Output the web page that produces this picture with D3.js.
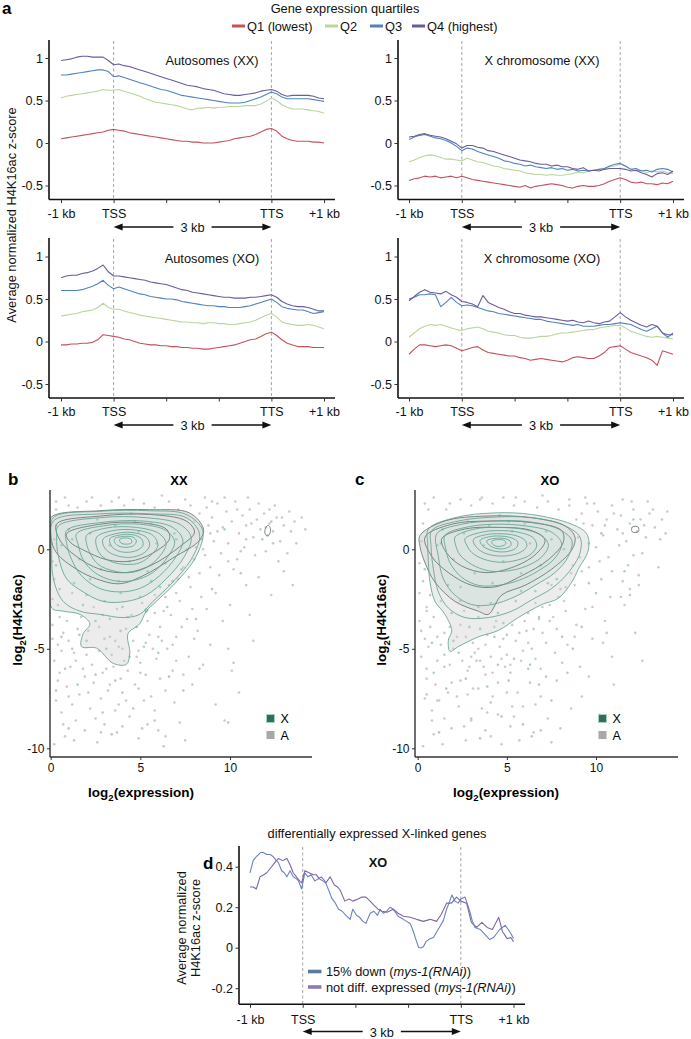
<!DOCTYPE html>
<html><head><meta charset="utf-8">
<script src="https://cdn.jsdelivr.net/npm/d3@7"></script>
<style>
body{margin:0;background:#fff;}
svg{display:block;font-family:"Liberation Sans",Arial,Helvetica,sans-serif;}
</style></head><body>
<svg id="fig" width="691" height="1039"></svg>
<script>
// ---------------- DATA ----------------
const binPos = [0,0.1,0.2,0.3,0.4,0.5,0.6,0.7,0.8,0.9,1.0,1.1,1.2,1.3,1.4,1.5,1.6,1.7,1.8,1.9,2.0,2.1,2.2,2.3,2.4,2.5,2.6,2.7,2.8,2.9,3.0,3.1,3.2,3.3,3.4,3.5,3.6,3.7,3.8,3.9,4.0,4.1,4.2,4.3,4.4,4.5,4.6,4.7,4.8,4.9,5.0];
const metaTickLabels = ["-1 kb","TSS","","","TTS","+1 kb"];
const quartiles = ["Q1 (lowest)","Q2","Q3","Q4 (highest)"];

const autoXX_Q1 = [0.05,0.06,0.07,0.08,0.09,0.10,0.11,0.12,0.13,0.15,0.16,0.15,0.14,0.12,0.11,0.10,0.09,0.08,0.07,0.06,0.05,0.04,0.03,0.02,0.02,0.01,0.01,0.00,0.00,0.00,0.01,0.02,0.03,0.05,0.06,0.07,0.08,0.10,0.13,0.16,0.17,0.14,0.08,0.05,0.03,0.02,0.02,0.02,0.01,0.01,0.00];
const autoXX_Q2 = [0.53,0.55,0.56,0.57,0.58,0.59,0.60,0.61,0.63,0.62,0.62,0.63,0.61,0.59,0.57,0.55,0.52,0.50,0.48,0.47,0.46,0.45,0.44,0.42,0.40,0.39,0.41,0.41,0.42,0.41,0.42,0.42,0.43,0.43,0.43,0.44,0.44,0.44,0.46,0.49,0.53,0.50,0.45,0.42,0.40,0.40,0.40,0.39,0.38,0.37,0.35];
const autoXX_Q3 = [0.80,0.80,0.81,0.82,0.83,0.84,0.85,0.86,0.86,0.84,0.78,0.79,0.77,0.75,0.73,0.71,0.69,0.67,0.65,0.63,0.62,0.60,0.58,0.56,0.55,0.54,0.53,0.52,0.51,0.50,0.49,0.48,0.47,0.47,0.47,0.48,0.50,0.52,0.54,0.57,0.60,0.58,0.54,0.52,0.52,0.52,0.52,0.52,0.51,0.50,0.49];
const autoXX_Q4 = [0.97,0.98,0.99,1.01,1.02,1.02,1.01,1.01,1.01,0.97,0.92,0.93,0.91,0.90,0.88,0.86,0.84,0.82,0.80,0.78,0.76,0.74,0.72,0.70,0.68,0.67,0.66,0.64,0.63,0.62,0.60,0.58,0.57,0.56,0.56,0.57,0.58,0.59,0.61,0.62,0.63,0.61,0.57,0.55,0.56,0.56,0.56,0.56,0.55,0.53,0.52];

const xXX_Q1 = [-0.44,-0.42,-0.41,-0.39,-0.40,-0.39,-0.41,-0.40,-0.39,-0.41,-0.39,-0.41,-0.43,-0.44,-0.45,-0.46,-0.47,-0.48,-0.49,-0.50,-0.51,-0.52,-0.50,-0.53,-0.51,-0.50,-0.49,-0.48,-0.49,-0.50,-0.52,-0.53,-0.51,-0.50,-0.51,-0.51,-0.50,-0.48,-0.45,-0.43,-0.41,-0.43,-0.46,-0.47,-0.46,-0.48,-0.48,-0.49,-0.47,-0.48,-0.45];
const xXX_Q2 = [-0.22,-0.20,-0.17,-0.15,-0.14,-0.15,-0.17,-0.19,-0.19,-0.20,-0.21,-0.18,-0.20,-0.22,-0.23,-0.25,-0.27,-0.28,-0.30,-0.31,-0.32,-0.33,-0.35,-0.36,-0.37,-0.37,-0.38,-0.37,-0.38,-0.38,-0.37,-0.36,-0.34,-0.35,-0.33,-0.32,-0.31,-0.30,-0.28,-0.27,-0.25,-0.27,-0.31,-0.33,-0.32,-0.35,-0.33,-0.34,-0.33,-0.35,-0.36];
const xXX_Q3 = [0.04,0.07,0.09,0.10,0.08,0.06,0.05,0.03,0.00,-0.04,-0.09,-0.06,-0.07,-0.10,-0.12,-0.14,-0.16,-0.18,-0.21,-0.22,-0.24,-0.25,-0.27,-0.26,-0.28,-0.29,-0.30,-0.29,-0.31,-0.30,-0.32,-0.31,-0.33,-0.32,-0.33,-0.32,-0.31,-0.30,-0.27,-0.25,-0.24,-0.27,-0.31,-0.30,-0.33,-0.32,-0.34,-0.31,-0.30,-0.31,-0.34];
const xXX_Q4 = [0.07,0.08,0.10,0.11,0.09,0.08,0.07,0.05,0.02,-0.01,-0.06,-0.03,-0.03,-0.05,-0.06,-0.09,-0.10,-0.12,-0.14,-0.16,-0.18,-0.20,-0.21,-0.22,-0.24,-0.25,-0.25,-0.27,-0.26,-0.28,-0.28,-0.30,-0.31,-0.29,-0.33,-0.32,-0.33,-0.31,-0.30,-0.30,-0.30,-0.31,-0.33,-0.32,-0.35,-0.37,-0.40,-0.36,-0.35,-0.37,-0.33];

const autoXO_Q1 = [-0.04,-0.04,-0.03,-0.03,-0.02,-0.02,-0.01,0.02,0.08,0.07,0.06,0.05,0.03,0.02,0.00,-0.02,-0.03,-0.04,-0.04,-0.05,-0.05,-0.06,-0.06,-0.07,-0.07,-0.08,-0.08,-0.09,-0.09,-0.08,-0.07,-0.06,-0.05,-0.04,-0.02,0.00,0.02,0.03,0.06,0.09,0.11,0.07,0.02,-0.02,-0.04,-0.06,-0.06,-0.06,-0.07,-0.07,-0.07];
const autoXO_Q2 = [0.30,0.31,0.32,0.33,0.35,0.36,0.37,0.40,0.45,0.40,0.38,0.38,0.36,0.34,0.33,0.31,0.30,0.29,0.28,0.27,0.26,0.25,0.24,0.23,0.23,0.22,0.22,0.21,0.22,0.22,0.21,0.21,0.20,0.20,0.21,0.22,0.23,0.25,0.28,0.31,0.33,0.29,0.23,0.21,0.20,0.19,0.19,0.20,0.19,0.17,0.15];
const autoXO_Q3 = [0.60,0.60,0.60,0.60,0.61,0.63,0.65,0.68,0.72,0.66,0.62,0.64,0.62,0.60,0.58,0.56,0.55,0.53,0.52,0.51,0.50,0.50,0.49,0.47,0.46,0.45,0.44,0.43,0.42,0.42,0.41,0.41,0.40,0.40,0.40,0.41,0.42,0.44,0.46,0.48,0.50,0.46,0.41,0.39,0.38,0.37,0.37,0.35,0.33,0.34,0.35];
const autoXO_Q4 = [0.75,0.77,0.78,0.78,0.80,0.81,0.83,0.86,0.90,0.82,0.77,0.77,0.76,0.75,0.74,0.73,0.72,0.70,0.69,0.68,0.67,0.65,0.63,0.61,0.60,0.58,0.57,0.56,0.55,0.54,0.53,0.52,0.52,0.51,0.51,0.51,0.52,0.52,0.53,0.54,0.55,0.52,0.47,0.44,0.42,0.41,0.41,0.40,0.38,0.36,0.36];

const xXO_Q1 = [-0.15,-0.09,-0.04,-0.04,-0.05,-0.06,-0.05,-0.04,-0.05,-0.08,-0.11,-0.09,-0.07,-0.06,-0.10,-0.13,-0.14,-0.15,-0.16,-0.17,-0.17,-0.19,-0.20,-0.22,-0.21,-0.20,-0.21,-0.22,-0.23,-0.24,-0.22,-0.19,-0.18,-0.19,-0.20,-0.20,-0.17,-0.13,-0.07,-0.06,-0.05,-0.09,-0.13,-0.15,-0.17,-0.19,-0.22,-0.28,-0.11,-0.13,-0.15];
const xXO_Q2 = [0.05,0.10,0.15,0.18,0.20,0.19,0.20,0.18,0.16,0.14,0.13,0.15,0.16,0.17,0.15,0.12,0.11,0.10,0.08,0.07,0.07,0.05,0.04,0.04,0.05,0.06,0.06,0.07,0.09,0.10,0.10,0.11,0.12,0.13,0.14,0.14,0.16,0.17,0.18,0.19,0.19,0.16,0.12,0.10,0.08,0.06,0.05,0.06,0.05,0.04,0.03];
const xXO_Q3 = [0.50,0.52,0.55,0.55,0.56,0.55,0.41,0.46,0.52,0.46,0.42,0.43,0.42,0.40,0.38,0.36,0.35,0.33,0.32,0.31,0.30,0.29,0.28,0.27,0.26,0.26,0.24,0.23,0.22,0.21,0.20,0.19,0.20,0.18,0.18,0.18,0.19,0.20,0.20,0.21,0.22,0.21,0.20,0.17,0.14,0.12,0.15,0.18,0.10,0.05,0.10];
const xXO_Q4 = [0.48,0.53,0.58,0.61,0.58,0.57,0.56,0.59,0.55,0.52,0.47,0.46,0.44,0.41,0.54,0.46,0.43,0.40,0.38,0.35,0.33,0.33,0.31,0.30,0.29,0.29,0.28,0.27,0.26,0.25,0.24,0.25,0.23,0.22,0.24,0.22,0.21,0.23,0.24,0.29,0.34,0.29,0.25,0.22,0.19,0.17,0.20,0.18,0.10,0.08,0.08];

// panel d
const dLegend = ["15% down", "not diff. expressed"];
const down15Pos = [0,0.06,0.12,0.2,0.25,0.32,0.38,0.44,0.5,0.54,0.6,0.65,0.7,0.76,0.82,0.88,0.92,0.98,1.04,1.1,1.16,1.23,1.3,1.35,1.42,1.5,1.55,1.62,1.68,1.75,1.82,1.9,1.95,2.02,2.08,2.14,2.2,2.28,2.35,2.42,2.47,2.53,2.59,2.66,2.72,2.81,2.91,2.97,3.04,3.1,3.13,3.2,3.25,3.29,3.34,3.39,3.48,3.57,3.67,3.73,3.79,3.83,3.89,3.95,4.0,4.08,4.17,4.22,4.27,4.37,4.46,4.55,4.62,4.68,4.74,4.84,4.9,4.95,5.0];
const down15Val = [0.37,0.43,0.45,0.47,0.47,0.46,0.46,0.45,0.43,0.42,0.38,0.37,0.35,0.38,0.35,0.34,0.33,0.29,0.37,0.35,0.36,0.33,0.34,0.35,0.33,0.28,0.245,0.22,0.19,0.18,0.16,0.14,0.19,0.16,0.15,0.13,0.12,0.17,0.18,0.16,0.19,0.17,0.18,0.20,0.19,0.155,0.14,0.13,0.12,0.08,0.055,0.0,0.0,0.005,0.03,0.04,0.05,0.09,0.135,0.19,0.23,0.26,0.23,0.22,0.24,0.25,0.18,0.13,0.10,0.09,0.065,0.04,0.05,0.07,0.09,0.11,0.09,0.07,0.045];
const notDiffPos = [0,0.06,0.12,0.19,0.26,0.32,0.38,0.44,0.5,0.54,0.62,0.7,0.76,0.82,0.88,0.94,0.98,1.04,1.12,1.2,1.26,1.32,1.38,1.44,1.52,1.6,1.66,1.71,1.8,1.88,1.95,2.05,2.12,2.2,2.28,2.35,2.43,2.5,2.6,2.72,2.81,2.91,3.04,3.16,3.29,3.42,3.54,3.63,3.73,3.82,3.92,4.0,4.11,4.2,4.3,4.4,4.5,4.6,4.72,4.79,4.88,4.95,5.0];
const notDiffVal = [0.30,0.30,0.29,0.35,0.36,0.37,0.39,0.41,0.43,0.44,0.43,0.44,0.41,0.37,0.35,0.33,0.32,0.38,0.37,0.36,0.36,0.34,0.33,0.32,0.35,0.31,0.30,0.285,0.23,0.24,0.23,0.24,0.25,0.25,0.23,0.21,0.19,0.18,0.175,0.19,0.17,0.155,0.15,0.14,0.13,0.14,0.13,0.165,0.22,0.22,0.25,0.23,0.22,0.125,0.10,0.125,0.10,0.09,0.15,0.08,0.045,0.05,0.03];

// panel b (XX) scatter points [log2 expression, log2 H4K16ac]
const xxPointsA = [[8.7,2.1],[9.0,1.6],[9.3,2.3],[9.6,1.1],[9.8,1.9],[10.1,1.4],[10.3,2.4],[10.5,0.8],[10.7,1.7],[10.9,1.2],[11.1,2.0],[11.3,0.6],[11.5,1.5],[11.7,1.0],[11.9,1.8],[12.1,0.7],[12.2,1.3],[12.4,0.9],[12.6,1.6],[12.8,0.4],[13.0,1.2],[13.3,1.9],[13.6,1.4],[14.0,1.6],[9.1,0.4],[9.5,-0.2],[9.9,0.3],[10.4,-0.5],[10.8,0.1],[11.4,-0.3],[12.0,-0.1],[12.7,-0.6],[13.2,-0.2],[8.9,-0.9],[9.4,-1.3],[10.2,-1.0],[10.9,-1.8],[11.6,-1.4],[12.3,-2.3],[13.5,-1.8],[8.6,2.6],[7.5,2.5],[6.2,2.7],[3.8,2.6],[2.0,2.4],[1.0,2.2],[0.3,2.0],[9.2,-2.2],[10.0,-2.8],[8.7,-3.0],[9.6,-3.6],[11.3,-4.6],[8.2,-4.1],[7.6,-3.5],[7.0,-4.4],[6.5,-5.0],[5.9,-5.5],[6.8,-6.1],[5.3,-6.3],[4.7,-6.8],[3.9,-6.5],[3.2,-7.1],[2.4,-6.7],[1.6,-7.3],[0.9,-6.9],[0.3,-7.6],[0.6,-8.2],[1.4,-8.6],[2.2,-8.0],[3.0,-8.8],[3.7,-9.2],[4.4,-8.4],[5.1,-9.0],[5.8,-8.1],[6.4,-9.4],[7.2,-8.7],[0.8,-9.4],[2.6,-9.7],[1.9,-9.1],[0.2,-9.8],[7.9,-6.8],[8.5,-5.8],[9.9,-5.0],[10.5,-7.2],[9.7,-8.6],[11.1,-3.3],[0.2,-5.6],[0.5,-6.2],[1.1,-5.9],[1.8,-6.0],[2.9,-6.2],[3.5,-5.9],[4.1,-5.6],[5.0,-5.7],[0.4,-4.8],[1.3,-5.2],[2.0,-5.3],[3.0,-4.5],[3.8,-4.9],[4.6,-4.6],[5.5,-4.3],[6.1,-3.9],[6.7,-3.3],[7.2,-2.6],[7.8,-1.9],[8.3,-1.2],[8.0,-0.5],[0.1,-3.8],[0.7,-4.2],[1.5,-4.0],[5.8,-3.2],[6.4,-2.4],[7.1,-1.5],[2.7,-3.9],[3.4,-5.3],[4.9,-5.1],[6.2,-4.6],[5.6,-7.4],[4.2,-7.6],[2.8,-7.5],[1.2,-7.8],[6.9,-7.7],[7.7,-5.4],[8.9,-4.8],[0.5,-3.4],[3.6,-8.1],[5.4,-8.8],[7.5,-9.6],[9.2,-7.8],[10.1,-6.1],[0.1,-2.5],[8.4,0.5],[8.8,1.2],[12.5,2.2],[11.0,2.6],[13.7,0.3],[14.2,1.0]];
const xxHaloA = [[0.2,-1.5],[0.4,-2.8],[0.9,-3.6],[1.2,-2.2],[1.7,-3.4],[2.1,-4.1],[2.4,-2.9],[2.9,-3.3],[3.3,-4.4],[3.7,-3.0],[4.2,-4.0],[4.5,-3.3],[5.1,-2.7],[5.4,-3.6],[5.8,-2.3],[6.3,-3.1],[6.6,-1.8],[7.0,-2.2],[7.4,-0.9],[7.7,-1.4],[8.1,0.1],[8.6,-0.3],[8.9,0.8],[0.1,-4.5],[0.6,-5.1],[1.0,-4.6],[1.4,-5.6],[2.3,-5.8],[2.7,-5.1],[3.1,-6.0],[3.6,-4.6],[4.0,-5.0],[4.3,-6.1],[4.8,-5.4],[5.3,-4.7],[5.7,-5.0],[6.0,-4.4],[6.8,-4.8],[7.3,-3.9],[7.9,-3.0],[8.4,-2.4],[0.3,2.4],[0.8,2.6],[1.5,2.1],[2.3,2.6],[2.8,2.2],[3.4,2.4],[4.1,2.2],[4.6,2.5],[5.2,2.3],[5.8,2.1],[6.6,2.4],[7.1,2.0],[7.8,2.2],[8.3,1.8],[8.0,1.4],[0.2,0.5],[0.1,-0.6],[0.3,1.2],[8.5,0.0],[9.0,2.4],[9.7,2.6],[10.4,2.0],[10.9,0.5],[11.6,2.3],[12.0,1.1],[12.4,0.3],[12.9,1.6],[13.4,0.9],[9.3,0.9],[9.9,-0.6],[10.6,-0.1],[11.2,1.3],[12.2,2.0],[13.0,-1.1],[1.9,-6.4],[3.3,-6.8],[4.9,-7.0],[6.1,-6.5],[0.4,-6.6],[1.0,-7.4],[2.1,-7.2],[3.8,-7.8],[5.2,-7.6],[6.4,-7.1],[7.0,-5.6],[7.4,-6.3],[8.0,-4.5],[0.7,-8.8],[2.5,-8.5],[4.0,-8.9],[4.9,-9.5],[6.0,-9.1],[1.3,-9.6],[2.8,-9.2]];
const xxPointsX = [[2.0,-4.6],[3.1,-5.0],[4.4,-5.4],[1.2,-5.0],[0.6,-4.4],[5.2,-4.9],[6.0,-5.2],[2.5,-6.3],[3.6,-6.6],[5.0,-6.2],[1.5,-6.8],[4.0,-7.2],[6.6,-6.4],[0.3,-7.1],[2.9,-8.2],[5.8,-8.6],[1.0,-9.0],[7.4,-7.1],[9.9,-8.7],[10.2,-5.7],[8.1,-3.5],[9.0,-2.0],[10.6,-1.2],[11.8,0.5],[12.3,1.4],[9.7,1.0],[0.5,-2.0],[1.8,-2.8],[3.3,-3.5],[4.8,-3.9],[6.5,-2.9],[7.3,-1.0],[2.2,-1.5],[5.6,-1.6],[3.9,-2.2],[1.2,0.5],[6.9,0.8],[2.6,1.5],[4.5,1.8],[0.3,-0.8],[8.3,-6.0],[3.4,-9.3],[6.3,-9.9],[0.8,-6.0],[4.6,-8.0],[1.0,1.0],[1.6,-0.5],[2.2,0.8],[2.8,-1.0],[3.3,0.2],[3.8,-1.6],[4.4,-0.6],[4.9,0.9],[5.4,-1.1],[5.9,0.3],[6.4,-0.7],[7.0,0.5],[2.0,-2.3],[3.0,-2.6],[4.0,-2.9],[5.0,-2.4],[6.1,-1.9],[1.3,-1.7],[0.6,0.2],[3.6,1.2],[4.7,1.4],[5.6,1.3],[2.5,-3.6],[3.9,-4.1],[1.6,-4.3],[6.8,-1.6],[7.6,0.0],[4.3,-3.4]];
const xxContoursX = [
 [[0.15,1.59],[2.74,1.91],[5.52,1.94],[7.56,1.75],[8.48,0.94],[8.11,-0.36],[7.0,-1.65],[5.89,-2.62],[5.33,-3.11],[4.96,-3.75],[4.31,-4.24],[4.41,-5.21],[4.22,-5.78],[3.48,-5.73],[2.56,-4.97],[1.72,-4.89],[1.81,-4.24],[2.19,-3.75],[1.63,-3.27],[0.7,-3.11],[0.06,-2.95],[0,-1.0],[0,0.61]],
 [[0.15,1.42],[2.74,1.78],[5.52,1.78],[7.56,1.59],[8.3,0.78],[7.93,-0.36],[6.81,-1.65],[5.7,-2.62],[4.96,-3.27],[4.04,-3.43],[2.74,-3.27],[1.63,-3.11],[0.7,-2.62],[0.15,-1.49],[0.06,0.13]],
 [[0.43,1.18],[2.74,1.59],[5.33,1.59],[7.19,1.26],[7.83,0.61],[7.46,-0.36],[6.44,-1.49],[5.33,-2.3],[4.22,-2.62],[2.93,-2.62],[1.81,-2.14],[0.89,-1.49],[0.43,-0.36],[0.33,0.61]],
 [[0.89,0.94],[2.74,1.34],[5.15,1.42],[6.81,1.1],[7.37,0.45],[7.0,-0.36],[6.07,-1.33],[4.96,-1.97],[3.85,-2.14],[2.74,-1.97],[1.72,-1.33],[1.17,-0.52],[0.89,0.29]],
 [[1.44,0.78],[2.93,1.18],[4.96,1.26],[6.44,0.94],[6.91,0.37],[6.54,-0.36],[5.7,-1.17],[4.59,-1.57],[3.48,-1.57],[2.46,-1.17],[1.81,-0.52],[1.54,0.21]],
 [[2.0,0.7],[3.11,1.07],[4.78,1.1],[6.07,0.78],[6.44,0.29],[6.07,-0.36],[5.33,-0.92],[4.41,-1.17],[3.48,-1.08],[2.65,-0.76],[2.19,-0.19],[2.0,0.29]],
 [[2.56,0.61],[3.48,0.94],[4.69,0.97],[5.7,0.7],[5.98,0.21],[5.61,-0.28],[4.96,-0.68],[4.22,-0.76],[3.48,-0.65],[2.83,-0.32],[2.56,0.13]],
 [[2.93,0.53],[3.76,0.81],[4.59,0.84],[5.33,0.61],[5.52,0.21],[5.24,-0.16],[4.59,-0.39],[3.85,-0.36],[3.2,-0.11],[2.93,0.21]],
 [[3.3,0.53],[3.94,0.73],[4.59,0.73],[5.06,0.53],[5.15,0.21],[4.87,-0.03],[4.31,-0.15],[3.76,-0.08],[3.39,0.16]],
 [[3.57,0.53],[4.13,0.65],[4.59,0.61],[4.78,0.42],[4.63,0.19],[4.22,0.1],[3.81,0.16],[3.57,0.34]],
 [[3.85,0.5],[4.22,0.57],[4.5,0.49],[4.5,0.32],[4.22,0.26],[3.91,0.32]],
 [[5.28,-3.0],[5.38,-3.0],[5.4,-3.12],[5.3,-3.16]]
];
const xxContoursA = [
 [[0,1.59],[2.74,1.94],[5.52,1.99],[7.74,1.83],[8.52,1.02],[8.3,0.45],[6.81,-0.44],[5.15,-1.33],[3.85,-1.73],[2.56,-1.49],[1.44,-1.0],[0.33,-0.19],[0,0.61]],
 [[0.33,1.26],[2.74,1.67],[5.52,1.75],[7.56,1.42],[8.02,0.86],[7.19,0.13],[5.7,-0.76],[4.22,-1.17],[2.74,-1.0],[1.44,-0.36],[0.52,0.45]],
 [[0.89,0.78],[2.74,1.26],[4.96,1.34],[6.44,1.02],[6.63,0.53],[5.7,-0.19],[4.41,-0.6],[3.11,-0.52],[1.81,-0.03],[1.07,0.37]],
 [[11.95,0.8],[12.0,1.1],[12.15,1.2],[12.25,1.05],[12.2,0.75],[12.05,0.68]]
];

// panel c (XO)
const xoPointsA = [[9.2,1.8],[9.5,2.3],[9.8,1.2],[10.1,1.9],[10.4,0.7],[10.6,1.5],[10.9,2.2],[11.2,1.0],[11.4,1.7],[11.7,0.4],[11.9,1.3],[12.1,2.0],[12.3,0.9],[12.5,1.5],[12.8,0.6],[13.0,1.8],[13.3,1.1],[13.7,1.5],[10.0,0.1],[10.7,-0.4],[11.3,0.2],[11.8,-0.8],[12.6,-0.2],[11.5,-1.6],[11.9,-2.0],[12.4,-1.3],[13.5,-0.9],[10.3,-1.5],[9.6,-0.9],[10.8,-2.4],[9.4,-3.0],[10.5,-3.6],[11.6,-2.8],[12.2,-4.2],[9.8,-4.5],[10.9,-5.4],[12.6,-5.6],[9.1,-5.9],[8.5,2.5],[7.0,2.7],[5.5,2.6],[3.5,2.5],[1.8,2.3],[0.6,2.0],[8.8,-1.8],[8.2,-2.6],[7.6,-3.4],[7.0,-4.2],[8.4,-4.8],[6.4,-5.0],[5.8,-5.6],[6.9,-6.0],[7.8,-6.6],[5.2,-6.2],[4.5,-6.7],[3.8,-6.3],[3.1,-7.0],[2.4,-6.6],[1.7,-7.2],[1.0,-6.8],[0.4,-7.5],[0.8,-8.1],[1.5,-8.5],[2.3,-7.9],[3.0,-8.6],[3.8,-9.1],[4.5,-8.3],[5.2,-8.9],[5.9,-7.9],[6.5,-9.2],[7.3,-8.5],[8.0,-9.0],[0.9,-9.3],[2.7,-9.6],[1.9,-9.0],[0.3,-9.9],[4.7,-9.8],[9.2,-7.4],[10.2,-8.3],[11.0,-6.8],[0.2,-5.4],[0.5,-6.0],[1.1,-5.6],[1.8,-5.8],[2.9,-5.9],[3.5,-5.6],[4.1,-5.4],[5.0,-5.3],[0.4,-4.5],[1.3,-4.8],[2.0,-5.0],[3.0,-5.4],[3.8,-4.8],[4.6,-4.9],[5.5,-4.6],[6.1,-4.1],[6.8,-3.5],[7.4,-2.8],[8.0,-2.0],[8.6,-1.2],[9.1,-0.4],[0.1,-3.6],[0.7,-3.9],[1.5,-4.2],[6.0,-3.6],[6.6,-2.7],[7.5,-1.8],[2.7,-4.4],[3.4,-5.0],[4.9,-5.9],[6.2,-4.7],[5.6,-7.2],[4.2,-7.4],[2.8,-7.3],[1.2,-7.6],[6.9,-7.4],[7.7,-5.2],[8.9,-3.8],[0.5,-3.1],[3.6,-8.0],[5.4,-8.4],[7.5,-9.7],[9.6,-6.4],[10.4,-4.7],[0.1,-2.2],[9.0,0.6],[9.3,1.3],[12.9,2.4],[11.5,2.5],[13.9,0.8],[14.0,1.9],[2.4,-3.8],[4.3,-3.9]];
const xoHaloA = [[0.3,-1.6],[0.5,-2.9],[0.9,-3.4],[1.3,-2.6],[1.8,-3.9],[2.2,-4.4],[2.6,-3.1],[3.1,-4.7],[3.4,-3.4],[3.9,-4.3],[4.4,-3.6],[4.8,-4.5],[5.3,-3.8],[5.7,-4.2],[6.2,-3.2],[6.5,-4.0],[7.0,-2.9],[7.4,-3.6],[7.9,-2.4],[8.3,-1.9],[8.7,-0.8],[9.2,-1.1],[9.6,0.3],[0.2,-4.1],[0.6,-4.9],[1.1,-4.4],[1.5,-5.9],[2.5,-5.6],[2.8,-6.1],[3.2,-5.2],[3.7,-5.9],[4.2,-6.2],[4.7,-5.5],[5.2,-5.8],[5.9,-5.1],[6.6,-5.5],[7.2,-4.7],[7.8,-4.0],[8.3,-3.1],[0.4,2.3],[0.9,2.6],[1.6,2.0],[2.4,2.5],[3.0,2.2],[3.6,2.6],[4.2,2.3],[4.8,2.6],[5.4,2.2],[6.0,2.4],[6.7,2.1],[7.3,2.4],[7.9,2.0],[8.5,2.2],[8.9,1.5],[0.2,0.4],[0.1,-0.7],[0.3,1.3],[9.4,2.6],[9.9,2.3],[10.5,1.2],[11.0,1.8],[11.5,0.8],[12.0,2.4],[12.7,1.2],[13.2,2.0],[13.6,0.5],[10.2,-0.6],[10.9,-1.1],[11.4,-2.4],[12.1,-0.3],[12.4,-1.8],[9.8,-2.9],[10.6,-4.2],[1.9,-6.7],[3.4,-7.0],[5.0,-7.2],[6.3,-6.7],[0.5,-6.5],[1.1,-7.6],[2.2,-7.4],[3.9,-8.2],[5.3,-7.9],[6.6,-7.8],[7.2,-6.4],[8.1,-5.7],[8.8,-4.4],[0.8,-8.6],[2.6,-8.9],[4.1,-9.4],[5.7,-9.6],[6.9,-9.1],[1.4,-9.8],[8.6,-8.0]];
const xoPointsX = [[2.3,-5.2],[3.3,-5.6],[4.5,-5.8],[1.5,-5.3],[0.8,-4.7],[5.4,-5.5],[6.3,-5.8],[2.7,-6.5],[3.9,-6.9],[5.1,-6.6],[1.6,-7.0],[4.1,-7.7],[6.8,-6.8],[0.5,-7.3],[3.0,-8.5],[5.9,-8.8],[1.2,-9.2],[7.5,-7.6],[8.4,-6.2],[9.2,-3.9],[10.0,-2.2],[11.6,-1.1],[11.9,-2.3],[12.1,1.5],[10.3,0.8],[0.7,-2.3],[1.9,-3.2],[3.5,-4.0],[5.0,-4.3],[6.8,-3.4],[7.8,-1.5],[2.4,-1.9],[5.8,-2.1],[4.1,-2.7],[1.3,0.3],[7.2,0.9],[2.8,1.4],[4.6,1.7],[0.4,-1.0],[8.7,-5.0],[3.5,-9.5],[6.4,-9.4],[0.9,-6.2],[4.7,-8.4],[9.6,-1.7],[8.1,-4.4],[6.2,-6.0],[1.4,1.0],[2.0,-0.5],[2.6,0.8],[3.2,-1.2],[3.7,0.2],[4.2,-1.7],[4.8,-0.6],[5.3,0.9],[5.8,-1.2],[6.3,0.3],[6.9,-0.8],[7.5,0.5],[2.4,-2.6],[3.4,-2.9],[4.5,-3.2],[5.5,-2.6],[6.6,-2.1],[1.7,-1.8],[1.1,0.2],[4.0,1.2],[5.1,1.4],[6.0,1.3],[2.9,-3.9],[4.3,-4.4],[2.0,-4.6],[7.3,-1.7],[8.2,0.0],[4.8,-3.7]];
const xoContoursX = [
 [[0.6,1.02],[2.09,1.59],[4.34,1.83],[6.39,1.75],[8.64,1.26],[9.48,0.78],[9.57,-0.03],[9.01,-1.0],[8.64,-1.65],[7.89,-2.46],[6.95,-2.78],[5.64,-3.43],[4.52,-4.08],[3.4,-4.4],[2.28,-4.89],[1.81,-5.13],[1.72,-4.56],[1.91,-4.08],[1.53,-3.27],[0.97,-2.62],[0.69,-1.65],[0.6,-0.68],[0.56,0.29]],
 [[0.79,0.94],[2.28,1.42],[4.34,1.62],[6.39,1.59],[8.26,1.18],[9.1,0.61],[9.1,-0.19],[8.45,-1.17],[7.51,-1.97],[6.39,-2.54],[5.27,-3.11],[3.96,-3.43],[2.65,-3.43],[1.72,-2.95],[1.16,-2.14],[0.88,-1.0],[0.75,0.13]],
 [[1.07,0.78],[2.47,1.26],[4.34,1.42],[6.21,1.39],[7.89,1.02],[8.64,0.45],[8.45,-0.36],[7.7,-1.17],[6.58,-1.81],[5.46,-2.38],[4.15,-2.78],[3.03,-2.78],[2.09,-2.3],[1.44,-1.49],[1.16,-0.36]],
 [[1.53,0.7],[2.84,1.13],[4.34,1.26],[6.02,1.18],[7.51,0.86],[8.07,0.29],[7.7,-0.44],[6.77,-1.08],[5.64,-1.57],[4.52,-1.81],[3.4,-1.81],[2.47,-1.41],[1.81,-0.68],[1.57,0.05]],
 [[2.09,0.61],[3.21,1.02],[4.43,1.1],[5.83,1.02],[6.95,0.7],[7.33,0.21],[6.95,-0.39],[6.11,-0.84],[5.08,-1.08],[3.96,-1.08],[3.03,-0.76],[2.37,-0.28],[2.13,0.21]],
 [[2.65,0.53],[3.59,0.86],[4.52,0.94],[5.64,0.86],[6.49,0.57],[6.67,0.16],[6.3,-0.28],[5.55,-0.55],[4.62,-0.65],[3.68,-0.49],[3.03,-0.16],[2.75,0.21]],
 [[3.12,0.49],[3.87,0.74],[4.62,0.78],[5.46,0.7],[6.02,0.45],[6.11,0.13],[5.74,-0.16],[5.08,-0.32],[4.34,-0.32],[3.68,-0.16],[3.27,0.13]],
 [[3.5,0.45],[4.15,0.65],[4.71,0.66],[5.27,0.57],[5.61,0.37],[5.55,0.1],[5.18,-0.08],[4.62,-0.13],[4.06,-0.03],[3.63,0.18]],
 [[3.87,0.42],[4.34,0.55],[4.8,0.55],[5.18,0.42],[5.23,0.21],[4.93,0.05],[4.49,0.03],[4.09,0.16]],
 [[4.15,0.4],[4.52,0.49],[4.86,0.44],[4.95,0.29],[4.71,0.16],[4.37,0.16],[4.19,0.28]]
];
const xoContoursA = [
 [[0.13,0.7],[1.53,1.42],[3.78,1.67],[6.39,1.59],[8.26,1.18],[8.82,0.61],[8.64,-0.03],[7.51,-1.0],[6.02,-1.81],[4.71,-2.3],[3.96,-3.27],[3.4,-3.11],[2.09,-2.62],[0.97,-1.65],[0.41,-0.68],[0.13,0.13]],
 [[0.41,0.61],[1.91,1.26],[3.96,1.42],[6.39,1.34],[8.07,0.94],[8.17,0.37],[7.33,-0.52],[5.83,-1.33],[4.34,-1.89],[3.03,-1.81],[1.72,-1.17],[0.79,-0.36]],
 [[1.35,0.53],[2.65,1.02],[4.52,1.1],[6.39,0.94],[7.14,0.45],[6.58,-0.28],[5.27,-0.92],[3.78,-1.17],[2.47,-0.84],[1.63,-0.19]],
 [[12.03,0.88],[12.03,1.12],[12.37,1.12],[12.37,0.88]]
];

// ---------------- DRAWING ----------------
const svg = d3.select("#fig");
const qColors = ["#c4515c","#b9d59e","#5083be","#6b5b9e"];
const FS = 12.8;

function styleAxis(g, fs) {
  g.attr("font-size", fs).attr("font-family", null);
  g.selectAll(".tick line").attr("stroke", "#333").attr("stroke-width", 1);
  g.selectAll(".tick text").attr("fill", "#111");
  g.select(".domain").attr("stroke", "#111").attr("stroke-width", 1.6);
}

function arrow(xa, xb, yA, yText, label) {
  const cx = (xa + xb) / 2;
  const g = svg.append("g");
  const t = g.append("text").attr("x", cx).attr("y", yText).attr("text-anchor", "middle")
    .attr("font-size", FS).attr("fill", "#111").text(label);
  const w = t.node().getComputedTextLength();
  g.append("line").attr("x1", xa + 6).attr("x2", cx - w/2 - 7).attr("y1", yA).attr("y2", yA).attr("stroke", "#111").attr("stroke-width", 1.3);
  g.append("line").attr("x1", cx + w/2 + 7).attr("x2", xb - 6).attr("y1", yA).attr("y2", yA).attr("stroke", "#111").attr("stroke-width", 1.3);
  g.append("path").attr("d", `M${xa},${yA}L${xa+9},${yA-3.6}L${xa+9},${yA+3.6}Z`).attr("fill", "#111");
  g.append("path").attr("d", `M${xb},${yA}L${xb-9},${yA-3.6}L${xb-9},${yA+3.6}Z`).attr("fill", "#111");
}

function metaPanel(L, series, colors, yTicks, yTickFmt, arrowY, arrowTextY, tickPad) {
  const x = d3.scaleLinear().domain([0, 5]).range([L.x0, L.x5]);
  const y = d3.scaleLinear().domain(L.ydom).range([L.y0, L.y1]);
  [1, 4].forEach(u => svg.append("line").attr("x1", x(u)).attr("x2", x(u))
    .attr("y1", L.top + 1).attr("y2", L.bot).attr("stroke", "#9a9a9a")
    .attr("stroke-width", 0.9).attr("stroke-dasharray", "3,2.5"));
  if (L.title) svg.append("text").attr("x", L.titleX).attr("y", L.titleY).attr("text-anchor", "middle")
    .attr("font-size", FS).attr("font-weight", L.titleBold ? "bold" : null).attr("fill", "#111").text(L.title);
  series.forEach((s, i) => {
    const line = d3.line().x((d, j) => x(s.pos[j])).y(d => y(d));
    svg.append("path").attr("d", line(s.val)).attr("fill", "none")
      .attr("stroke", colors[i]).attr("stroke-width", 1.1).attr("stroke-linejoin", "round");
  });
  const gx = svg.append("g").attr("transform", `translate(0,${L.bot})`)
    .call(d3.axisBottom(x).tickValues([0,1,2,3,4,5]).tickFormat((d, i) => metaTickLabels[i])
      .tickSize(3.5).tickPadding(tickPad).tickSizeOuter(0));
  styleAxis(gx, 12.5);
  gx.select(".domain").attr("d", `M${L.ax},0H${L.axr}`);
  const gy = svg.append("g").attr("transform", `translate(${L.ax},0)`)
    .call(d3.axisLeft(y).tickValues(yTicks).tickFormat(yTickFmt).tickSize(3.5).tickPadding(2.5).tickSizeOuter(0));
  styleAxis(gy, 12.5);
  gy.select(".domain").attr("d", `M0,${L.top}V${L.bot}`);
  arrow(x(1), x(4), arrowY, arrowTextY, "3 kb");
}

// ---- panel a ----
svg.append("text").attr("x", 2).attr("y", 14).attr("font-size", 17).attr("font-weight", "bold").text("a");
svg.append("text").attr("x", 345).attr("y", 13).attr("text-anchor", "middle").attr("font-size", FS).attr("fill", "#111").text("Gene expression quartiles");
const legX = [232, 325, 370, 412];
quartiles.forEach((q, i) => {
  svg.append("rect").attr("x", legX[i]).attr("y", 24.5).attr("width", 13).attr("height", 3).attr("fill", qColors[i]);
  svg.append("text").attr("x", legX[i] + 15).attr("y", 30.5).attr("font-size", FS).attr("fill", "#111").text(q);
});
svg.append("text").attr("transform", "translate(16,215) rotate(-90)").attr("text-anchor", "middle")
  .attr("font-size", FS).attr("fill", "#111").text("Average normalized H4K16ac z-score");

const aTicks = [-0.5, 0, 0.5, 1];
const aFmt = d => String(d);
const mk = arr => arr.map(v => ({pos: binPos, val: v}));
const layouts = [
  {title: "Autosomes (XX)", titleX: 212, titleY: 65, ax: 49, axr: 335, x0: 61, x5: 324, y0: 143, y1: 58, ydom: [0, 1], top: 40, bot: 199.5, s: [autoXX_Q1, autoXX_Q2, autoXX_Q3, autoXX_Q4], ay: 227, aty: 232},
  {title: "X chromosome (XX)", titleX: 542, titleY: 65, ax: 398, axr: 684, x0: 409, x5: 673, y0: 143, y1: 58, ydom: [0, 1], top: 40, bot: 199.5, s: [xXX_Q1, xXX_Q2, xXX_Q3, xXX_Q4], ay: 227, aty: 232},
  {title: "Autosomes (XO)", titleX: 212, titleY: 263, ax: 49, axr: 335, x0: 61, x5: 324, y0: 341.5, y1: 256.5, ydom: [0, 1], top: 238, bot: 398, s: [autoXO_Q1, autoXO_Q2, autoXO_Q3, autoXO_Q4], ay: 425, aty: 430},
  {title: "X chromosome (XO)", titleX: 542, titleY: 263, ax: 398, axr: 684, x0: 409, x5: 673, y0: 341.5, y1: 256.5, ydom: [0, 1], top: 238, bot: 398, s: [xXO_Q1, xXO_Q2, xXO_Q3, xXO_Q4], ay: 425, aty: 430}
];
layouts.forEach(L => metaPanel(L, mk(L.s), qColors, aTicks, aFmt, L.ay, L.aty, 6));

// ---- panels b, c ----
function scatterPanel(P) {
  const x = d3.scaleLinear().domain([0, 10]).range([P.x0, P.x10]);
  const y = d3.scaleLinear().domain([-10, 0]).range([748.3, 549.3]);
  const clipId = "clip" + P.id;
  svg.append("clipPath").attr("id", clipId).append("rect")
    .attr("x", P.ax).attr("y", 490).attr("width", P.axr - P.ax).attr("height", 267);
  const g = svg.append("g").attr("clip-path", `url(#${clipId})`);
  const ring = d3.line().x(d => x(d[0])).y(d => y(d[1])).curve(d3.curveCatmullRomClosed.alpha(0.5));
  // dense cores of overlapping points
  g.append("path").attr("d", ring(P.contX[0])).attr("fill", "#ececec").attr("stroke", "none");
  g.append("path").attr("d", ring(P.contA[0])).attr("fill", "#e2e2e2").attr("stroke", "none");
  g.append("path").attr("d", ring(P.contX[2])).attr("fill", "#d6e6e0").attr("opacity", 0.55);
  const pts = P.ptsA.concat(P.haloA);
  g.selectAll(null).data(pts).enter().append("circle")
    .attr("cx", d => x(d[0])).attr("cy", d => y(d[1])).attr("r", 1.3).attr("fill", "#cbcbcb");
  g.selectAll(null).data(P.ptsX).enter().append("circle")
    .attr("cx", d => x(d[0])).attr("cy", d => y(d[1])).attr("r", 1.3).attr("fill", "#9fc8bb").attr("opacity", 0.85);
  P.contA.forEach(r => g.append("path").attr("d", ring(r)).attr("fill", "none").attr("stroke", "#64766e").attr("stroke-width", 0.85));
  P.contX.forEach(r => g.append("path").attr("d", ring(r)).attr("fill", "none").attr("stroke", "#62a292").attr("stroke-width", 0.85));
  // axes
  const gx = svg.append("g").attr("transform", "translate(0,757)")
    .call(d3.axisBottom(x).tickValues([0, 5, 10]).tickFormat(d => String(d)).tickSize(3).tickPadding(3.5).tickSizeOuter(0));
  styleAxis(gx, 12);
  gx.select(".domain").attr("d", `M${P.ax},0H${P.axr}`).attr("stroke", "#333").attr("stroke-width", 1.4);
  const gy = svg.append("g").attr("transform", `translate(${P.ax},0)`)
    .call(d3.axisLeft(y).tickValues([-10, -5, 0]).tickFormat(d => String(d)).tickSize(3).tickPadding(2.5).tickSizeOuter(0));
  styleAxis(gy, 12);
  gy.select(".domain").attr("d", "M0,490V757").attr("stroke", "#333").attr("stroke-width", 1.4);
  // texts
  svg.append("text").attr("x", P.labX).attr("y", 485).attr("font-size", 17).attr("font-weight", "bold").text(P.lab);
  svg.append("text").attr("x", P.titleX).attr("y", 485).attr("text-anchor", "middle").attr("font-size", 13).attr("font-weight", "bold").text(P.title);
  const xt = svg.append("text").attr("x", P.xtX).attr("y", 797).attr("text-anchor", "middle").attr("font-size", 13.5).attr("font-weight", "bold");
  xt.append("tspan").text("log");
  xt.append("tspan").attr("font-size", 9.5).attr("dy", 4).text("2");
  xt.append("tspan").attr("dy", -4).text("(expression)");
  const yt = svg.append("text").attr("transform", `translate(${P.ytX},620) rotate(-90)`).attr("text-anchor", "middle").attr("font-size", 13.5).attr("font-weight", "bold");
  yt.append("tspan").text("log");
  yt.append("tspan").attr("font-size", 9.5).attr("dy", 4).text("2");
  yt.append("tspan").attr("dy", -4).text("(H4K16ac)");
  // legend
  svg.append("rect").attr("x", P.legX).attr("y", 714.5).attr("width", 8).attr("height", 8).attr("fill", "#2f6e5d").attr("stroke", "#a9d2c3").attr("stroke-width", 1);
  svg.append("text").attr("x", P.legX + 14).attr("y", 723).attr("font-size", 12.5).text("X");
  svg.append("rect").attr("x", P.legX).attr("y", 731).attr("width", 8).attr("height", 8).attr("fill", "#a8a8a8");
  svg.append("text").attr("x", P.legX + 14).attr("y", 739.5).attr("font-size", 12.5).text("A");
}
scatterPanel({id: "b", lab: "b", labX: 8, title: "XX", titleX: 179, ax: 50, axr: 312, x0: 50.7, x10: 230, xtX: 141, ytX: 22, legX: 266.5,
  ptsA: xxPointsA, haloA: xxHaloA, ptsX: xxPointsX, contA: xxContoursA, contX: xxContoursX});
scatterPanel({id: "c", lab: "c", labX: 355, title: "XO", titleX: 550, ax: 415, axr: 678, x0: 417.7, x10: 596, xtX: 506, ytX: 386, legX: 598.5,
  ptsA: xoPointsA, haloA: xoHaloA, ptsX: xoPointsX, contA: xoContoursA, contX: xoContoursX});

// ---- panel d ----
const dColors = ["#6b82c2", "#7e67a6"];
svg.append("text").attr("x", 203).attr("y", 869).attr("font-size", 17).attr("font-weight", "bold").text("d");
svg.append("text").attr("x", 377).attr("y", 838).attr("text-anchor", "middle").attr("font-size", FS).attr("fill", "#111").text("differentially expressed X-linked genes");
const dL = {title: "XO", titleBold: true, titleX: 378, titleY: 867, ax: 239, axr: 525, x0: 250, x5: 513.5, y0: 947.7, y1: 866.7, ydom: [0, 0.4], top: 846, bot: 1004.3};
metaPanel(dL, [{pos: down15Pos, val: down15Val}, {pos: notDiffPos, val: notDiffVal}], dColors,
  [-0.2, 0, 0.2, 0.4], d => String(d), 1031.5, 1036.5, 7);
svg.append("text").attr("transform", "translate(186,928) rotate(-90)").attr("text-anchor", "middle").attr("font-size", FS).attr("fill", "#111").text("Average normalized");
svg.append("text").attr("transform", "translate(200,928) rotate(-90)").attr("text-anchor", "middle").attr("font-size", FS).attr("fill", "#111").text("H4K16ac z-score");
const dLegY = [971.5, 987];
dLegend.forEach((lab, i) => {
  svg.append("rect").attr("x", 308).attr("y", dLegY[i] - 1.8).attr("width", 13.5).attr("height", 3.6).attr("fill", i === 0 ? "#587a9e" : "#8d7bb8");
  const t = svg.append("text").attr("x", 326).attr("y", dLegY[i] + 4.5).attr("font-size", FS).attr("fill", "#111");
  t.append("tspan").text(lab + " (");
  t.append("tspan").attr("font-style", "italic").text("mys-1(RNAi)");
  t.append("tspan").text(")");
});
</script>
</body></html>
